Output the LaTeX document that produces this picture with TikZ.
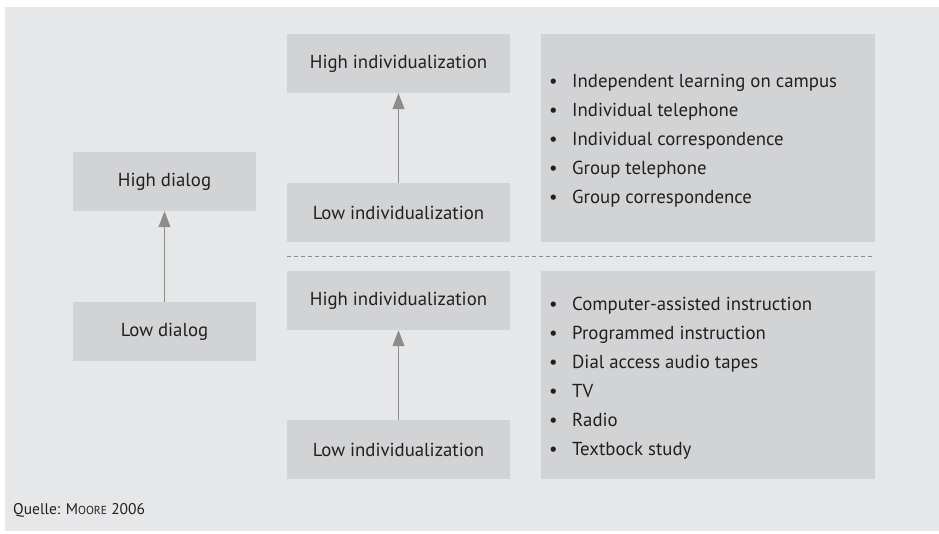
\documentclass[tikz,border=0pt]{standalone}
\usepackage{fontspec}
\setmainfont{PT Sans}
\usetikzlibrary{arrows.meta}

\definecolor{panelbg}{HTML}{E6E7E8}
\definecolor{boxfill}{HTML}{D1D3D4}
\definecolor{inkgray}{HTML}{231F20}
\definecolor{arrowgray}{HTML}{8C8C8C}

\tikzset{
  levelbox/.style={fill=boxfill, inner sep=0pt, minimum width=223pt, minimum height=59pt,
    text=inkgray, font=\fontsize{18.8}{22}\selectfont},
  dialogbox/.style={levelbox, minimum width=183pt},
  listbox/.style={fill=boxfill, inner sep=0pt, minimum width=334pt, minimum height=208pt,
    text=inkgray},
  listtext/.style={text=inkgray, align=left, anchor=west, inner sep=0pt,
    font=\fontsize{18.8}{29}\selectfont},
  upline/.style={draw=arrowgray, line width=1pt, -{Triangle[length=16pt,width=12pt]}},
}
\newcommand{\itm}{\makebox[23pt][l]{\textbullet}}

\begin{document}
\begin{tikzpicture}[x=1pt,y=1pt,yscale=-1]
\useasboundingbox (0,0) rectangle (939,533);
% background panel
\fill[panelbg] (5,7) rectangle (939,531);

% dialog column
\node[dialogbox] (hidialog) at (164.5,181.5) {High dialog};
\node[dialogbox] (lodialog) at (164.5,331.5) {Low dialog};
\draw[upline] (lodialog.north) -- (hidialog.south);

% upper half
\node[levelbox] (hiindA) at (398.5,63.5) {High individualization};
\node[levelbox] (loindA) at (398.5,212.5) {Low individualization};
\draw[upline] (loindA.north) -- (hiindA.south);
\node[listbox] (listA) at (708,138) {};
\node[listtext] (itemsA) at (549,141) {\itm Independent learning on campus\\
  \itm Individual telephone\\
  \itm Individual correspondence\\
  \itm Group telephone\\
  \itm Group correspondence};

% divider
\coordinate (divL) at (287,256);
\coordinate (divR) at (875,256);
\draw[arrowgray, line width=0.8pt, dash pattern=on 4pt off 3pt] (divL) -- (divR);

% lower half
\node[levelbox] (hiindB) at (398.5,300.5) {High individualization};
\node[levelbox] (loindB) at (398.5,449.5) {Low individualization};
\draw[upline] (loindB.north) -- (hiindB.south);
\node[listbox] (listB) at (708,375) {};
\node[listtext] (itemsB) at (549,378) {\itm Computer-assisted instruction\\
  \itm Programmed instruction\\
  \itm Dial access audio tapes\\
  \itm TV\\
  \itm Radio\\
  \itm Textbock study};

% source
\node[anchor=base west, text=inkgray, inner sep=0pt, font=\fontsize{15.5}{18}\selectfont]
  (source) at (13,514) {Quelle: M{\fontsize{11.6}{14}\selectfont OORE} 2006};
\end{tikzpicture}
\end{document}
